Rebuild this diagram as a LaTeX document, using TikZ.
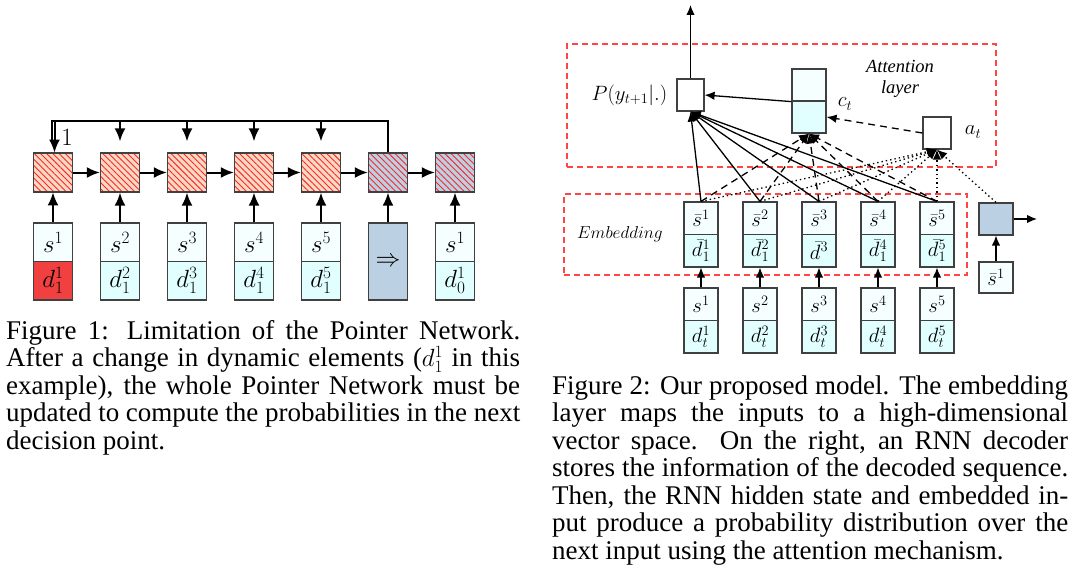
\documentclass[tikz,border=0pt]{standalone}
\usepackage{fontspec}
\setmainfont{Liberation Serif}
\usetikzlibrary{arrows.meta,patterns.meta,calc}
\definecolor{peach}{RGB}{250,216,194}
\definecolor{hatchred}{RGB}{250,40,40}
\definecolor{bluegray}{RGB}{188,208,228}
\definecolor{lighttop}{RGB}{246,255,255}
\definecolor{lightbot}{RGB}{226,255,255}
\definecolor{boxred}{RGB}{240,64,64}
\definecolor{bordergray}{RGB}{64,64,64}
\definecolor{dashred}{RGB}{255,70,70}
\tikzset{
  lbox/.style={draw=bordergray, line width=1.3pt, inner sep=0pt, minimum width=39pt, minimum height=38.5pt, font=\fontsize{24}{28}\selectfont},
  hatchbox/.style={lbox, minimum height=39pt, preaction={fill=#1}, pattern={Lines[angle=-45,distance=4.4pt,line width=0.9pt]}, pattern color=hatchred},
  rbox/.style={draw=bordergray, line width=1.2pt, inner sep=0pt, minimum width=34pt, minimum height=32.5pt, font=\fontsize{20}{24}\selectfont},
  larr/.style={line width=2pt, -{Latex[length=13pt,width=11pt]}},
  lline/.style={line width=2pt},
  rarr/.style={line width=1.3pt, -{Latex[length=10pt,width=8.5pt]}},
  dashline/.style={dash pattern=on 7pt off 5pt},
  dotline/.style={dash pattern=on 1.4pt off 3pt},
  redframe/.style={draw=dashred, line width=1.1pt, dash pattern=on 6pt off 4pt, inner sep=0pt},
  mathlbl/.style={inner sep=0pt, font=\fontsize{20}{24}\selectfont},
  capline/.style={inner sep=0pt, anchor=base west, font=\fontsize{27}{27.5}\selectfont},
}
\begin{document}
\begin{tikzpicture}[x=1pt,y=-1pt]
\fill[white] (0,0) rectangle (1080,586);
\useasboundingbox (0,0) rectangle (1080,586);

% ---------------- Figure 1 ----------------
\foreach \i/\x in {1/53,2/120,3/187,4/254,5/321}{
  \node[hatchbox=peach] (h\i) at (\x,172.5) {};
}
\node[hatchbox=bluegray] (h6) at (388,172.5) {};
\node[hatchbox=bluegray] (h7) at (455,172.5) {};

\node[lbox, fill=lighttop] (s1) at (53,242.25) {$s^1$};
\node[lbox, fill=boxred] (d1) at (53,280.75) {$d^1_1$};
\foreach \i/\x in {2/120,3/187,4/254,5/321}{
  \node[lbox, fill=lighttop] (s\i) at (\x,242.25) {$s^{\i}$};
  \node[lbox, fill=lightbot] (d\i) at (\x,280.75) {$d^{\i}_1$};
}
\node[lbox, fill=bluegray, minimum height=77pt] (s6) at (388,261.5) {$\Rightarrow$};
\node[lbox, fill=lighttop] (s7) at (455,242.25) {$s^1$};
\node[lbox, fill=lightbot] (d7) at (455,280.75) {$d^1_0$};

\foreach \i in {1,...,7}{
  \draw[larr] (s\i.north) -- (h\i.south);
}
\foreach \i/\j in {1/2,2/3,3/4,4/5,5/6,6/7}{
  \draw[larr] (h\i.east) -- (h\j.west);
}
\coordinate (tl) at ($(h1.north)+(1.5,-32)$);
\draw[lline] (h6.north) |- ($(tl)+(-3,0)$) -- ++(0,22);
\draw[larr] (tl) -- (tl |- h1.north);
\foreach \i in {2,...,5}{
  \draw[larr] (h\i.north |- tl) -- ($(h\i.north)+(0,-11)$);
}
\node[inner sep=0pt, font=\fontsize{24}{28}\selectfont] (one) at (67,137) {$1$};

% ---------------- Figure 2 ----------------
\node[redframe, minimum width=429pt, minimum height=123pt] (attframe) at (781.5,105.5) {};
\node[redframe, minimum width=403pt, minimum height=81pt] (embframe) at (765.5,234.5) {};
\node[align=center, inner sep=0pt, font=\fontsize{18.5}{21}\selectfont\itshape] (attlbl) at (900,79) {Attention\\layer};
\node[inner sep=0pt, font=\fontsize{19}{23}\selectfont] (emblbl) at (620,234) {$Embedding$};

\node[rbox, fill=white, minimum width=27pt, minimum height=32pt] (P) at (690.5,95) {};
\coordinate (ptop) at (690.5,5);
\draw[rarr] (P.north) -- (ptop);
\node[mathlbl, anchor=east] (Plbl) at ($(P.west)+(-9,0)$) {$P(y_{t+1}|.)$};

\node[rbox, fill=lighttop, minimum height=32pt] (c1) at (809,85) {};
\node[rbox, fill=lightbot, minimum height=32pt] (c2) at (809,117) {};
\node[mathlbl] (ctl) at (845,104) {$c_t$};
\node[rbox, fill=white, minimum width=28pt, minimum height=32pt] (A) at (937,133) {};
\node[mathlbl] (atl) at (973,132) {$a_t$};

\draw[rarr] (c1.south west) -- (P.east);
\draw[rarr, dashline] (A.west) -- (c2.east);

\foreach \i/\x in {1/701,2/760,3/819,4/878,5/937}{
  \node[rbox, fill=lighttop] (e\i) at (\x,218.25) {$\bar{s}^{\i}$};
  \node[rbox, fill=lighttop] (i\i) at (\x,304.25) {$s^{\i}$};
  \node[rbox, fill=lightbot] (id\i) at (\x,336.75) {$d^{\i}_t$};
}
\foreach \i/\x in {1/701,2/760,4/878,5/937}{
  \node[rbox, fill=lightbot] (ed\i) at (\x,250.75) {$\bar{d}^{\i}_1$};
}
\node[rbox, fill=lightbot] (ed3) at (819,250.75) {$\bar{d}^{3}$};

\foreach \i in {1,...,5}{
  \draw[rarr] (i\i.north) -- (ed\i.south);
}

\node[rbox, fill=bluegray, minimum height=32pt] (dec) at (996,219) {};
\coordinate (decout) at (1037,219);
\draw[rarr] (dec.east) -- (decout);
\node[rbox, fill=lighttop, minimum height=31pt] (sb) at (996,277.5) {$\bar{s}^1$};
\draw[rarr] (sb.north) -- (dec.south);

\foreach \i in {1,...,5}{
  \draw[rarr] (e\i.north) -- (P.south);
  \draw[rarr, dashline] (e\i.north) -- (c2.south);
  \draw[rarr, dotline] (e\i.north) -- (A.south);
}
\draw[rarr, dotline] (dec.north) -- (A.south);

% ---------------- Captions ----------------
\node[capline] (la) at (6,339) {\makebox[514pt][s]{Figure 1: Limitation of the Pointer Network.}};
\node[capline] (lb) at (6,366.5) {\makebox[514pt][s]{After a change in dynamic elements ($d^1_1$ in this}};
\node[capline] (lc) at (6,394) {\makebox[514pt][s]{example), the whole Pointer Network must be}};
\node[capline] (ld) at (6,421.5) {\makebox[514pt][s]{updated to compute the probabilities in the next}};
\node[capline] (le) at (6,449) {decision point.};

\node[capline] (ra) at (552,394) {\makebox[516pt][s]{Figure 2: Our proposed model. The embedding}};
\node[capline] (rb) at (552,421.5) {\makebox[516pt][s]{layer maps the inputs to a high-dimensional}};
\node[capline] (rc) at (552,449) {\makebox[516pt][s]{vector space.\ \ On the right, an RNN decoder}};
\node[capline] (rd) at (552,476.5) {\makebox[516pt][s]{stores the information of the decoded sequence.}};
\node[capline] (re) at (552,504) {\makebox[516pt][s]{Then, the RNN hidden state and embedded in-}};
\node[capline] (rf) at (552,531.5) {\makebox[516pt][s]{put produce a probability distribution over the}};
\node[capline] (rg) at (552,559) {next input using the attention mechanism.};
\end{tikzpicture}
\end{document}
